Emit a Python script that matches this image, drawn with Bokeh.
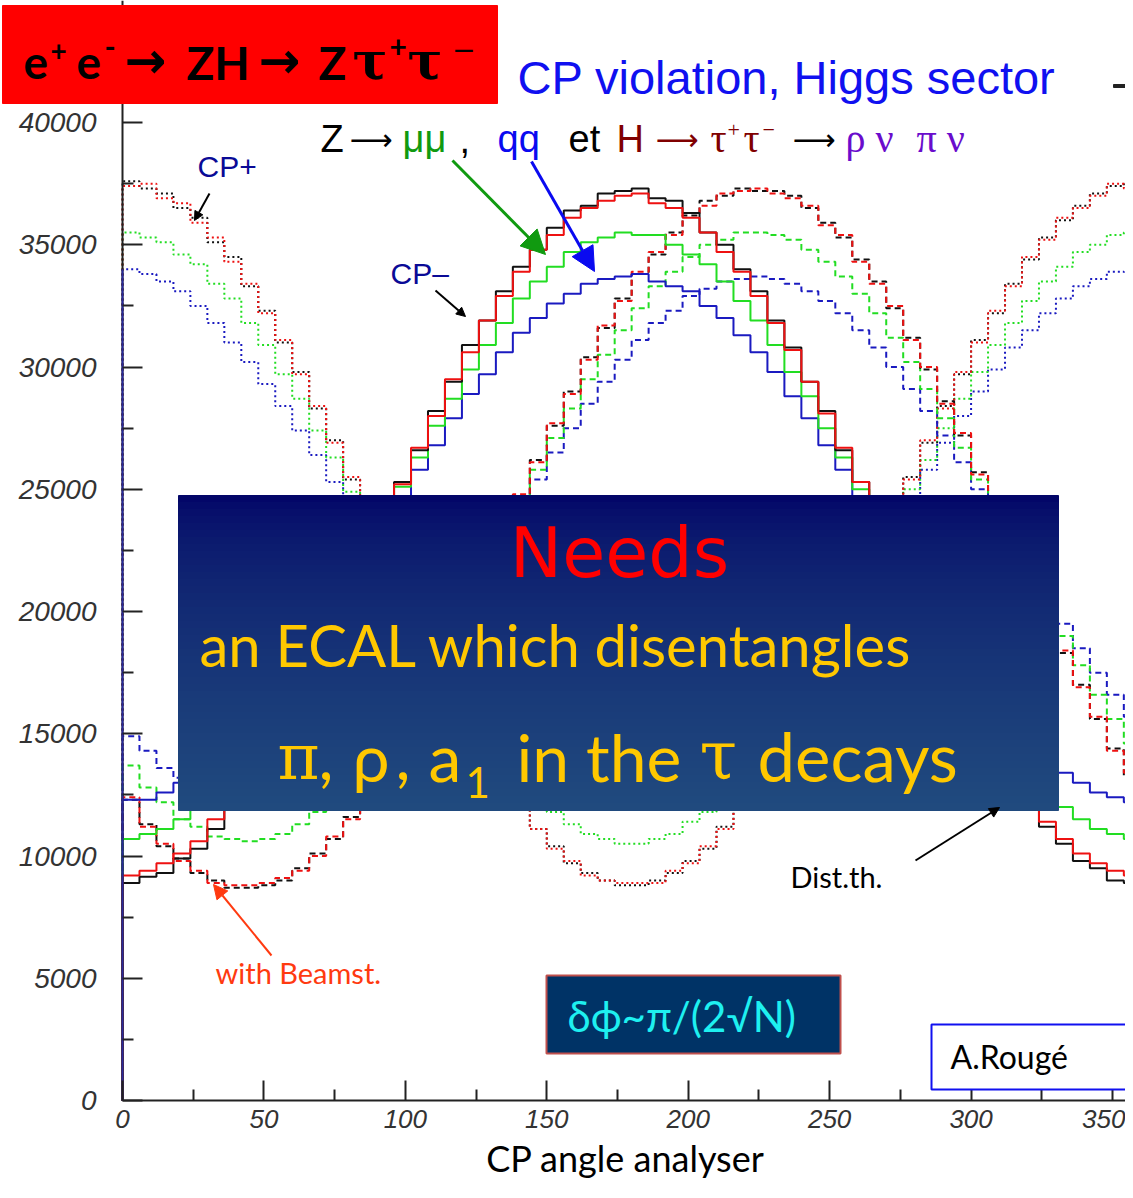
import numpy as np
from bokeh.plotting import figure
from bokeh.models import (Range1d, FixedTicker, BoxAnnotation, Label,
                          Arrow, NormalHead)
from bokeh.embed import file_html
from bokeh.resources import INLINE

# ---------------- data ----------------
angle_edges = list(range(0, 361, 6))   # 60 bins of 6 degrees

# CP- (solid, no beamstrahlung)
cpm_black = [8900, 9150, 9300, 9900, 10300, 11100, 12100, 13100, 14000, 15400,
             16700, 17900, 19500, 20800, 22400, 23700, 25300, 26600, 28200, 29400,
             30900, 31900, 33100, 34100, 34800, 35700, 36400, 36600, 37100, 37200,
             37300, 36900, 36800, 36300, 35500, 35000, 34000, 33100, 31900, 30800,
             29400, 28200, 26600, 25300, 23800, 22200, 20900, 19300, 18000, 16500,
             15400, 14100, 13100, 12000, 11200, 10500, 9800, 9500, 9000, 8900]
cpm_red = [9200, 9400, 9700, 10100, 10600, 11500, 12300, 13200, 14400, 15500,
           16800, 18100, 19400, 21000, 22300, 23900, 25200, 26700, 28000, 29500,
           30600, 31900, 32900, 33900, 34800, 35400, 36100, 36500, 36800, 37000,
           37100, 36700, 36500, 36100, 35500, 34700, 33900, 32900, 31800, 30700,
           29400, 28100, 26700, 25300, 23800, 22400, 20900, 19500, 18100, 16800,
           15500, 14400, 13300, 12300, 11400, 10700, 10100, 9700, 9400, 9200]
cpm_green = [10700, 10900, 11100, 11500, 12100, 12600, 13500, 14300, 15300, 16400,
             17400, 18700, 19900, 21100, 22500, 23700, 25100, 26300, 27600, 28700,
             29900, 30900, 31800, 32800, 33500, 34100, 34700, 35100, 35300, 35500,
             35400, 35400, 35000, 34600, 34200, 33500, 32700, 31900, 30900, 29800,
             28800, 27500, 26300, 25000, 23800, 22400, 21200, 19900, 18600, 17500,
             16300, 15300, 14300, 13500, 12700, 12000, 11500, 11100, 10900, 10700]
cpm_blue = [12300, 12300, 12600, 13000, 13400, 14000, 14600, 15400, 16200, 17200,
            18100, 19100, 20200, 21300, 22400, 23600, 24700, 25800, 26800, 27900,
            28900, 29700, 30600, 31400, 32000, 32600, 33000, 33400, 33600, 33700,
            33800, 33500, 33300, 33100, 32500, 32000, 31300, 30600, 29800, 28800,
            27900, 26800, 25800, 24700, 23500, 22500, 21300, 20200, 19100, 18100,
            17200, 16200, 15400, 14600, 14000, 13400, 13000, 12600, 12400, 12200]

# CP- with beamstrahlung (dashed)
cpm_bs_black = [12300, 11300, 10400, 9900, 9300, 9000, 8700, 8700, 8800, 9000,
                9500, 10100, 10700, 11600, 12500, 13600, 14800, 16100, 17400, 18800,
                20300, 21700, 23300, 24700, 26200, 27600, 29000, 30400, 31600, 32800,
                33800, 34600, 35500, 36200, 36800, 37000, 37300, 37200, 37200, 37000,
                36500, 35900, 35300, 34400, 33500, 32400, 31200, 29900, 28600, 27200,
                25700, 24200, 22800, 21300, 19800, 18300, 17000, 15600, 14400, 13300]
cpm_bs_red = [12400, 11200, 10500, 9800, 9400, 8900, 8800, 8800, 8900, 9100,
              9400, 10000, 10800, 11500, 12600, 13500, 14900, 16000, 17500, 18700,
              20300, 21800, 23200, 24800, 26100, 27700, 28900, 30300, 31700, 32700,
              33900, 34700, 35400, 36300, 36600, 37100, 37200, 37300, 37100, 36900,
              36600, 35800, 35400, 34300, 33400, 32500, 31100, 30000, 28500, 27300,
              25600, 24300, 22700, 21400, 19700, 18400, 16900, 15700, 14300, 13400]
cpm_bs_green = [13700, 12800, 12200, 11500, 11200, 10800, 10700, 10600, 10700, 10900,
                11300, 11800, 12400, 13100, 13900, 14900, 15900, 17000, 18200, 19400,
                20700, 22000, 23300, 24600, 25800, 27100, 28300, 29500, 30500, 31500,
                32400, 33300, 33900, 34500, 35000, 35200, 35500, 35500, 35400, 35200,
                34800, 34300, 33700, 33000, 32200, 31200, 30200, 29100, 27900, 26700,
                25400, 24100, 22800, 21500, 20200, 19000, 17800, 16600, 15600, 14600]
cpm_bs_blue = [14900, 14300, 13600, 13200, 12800, 12500, 12300, 12300, 12400, 12600,
               12900, 13300, 13800, 14500, 15200, 16000, 16900, 17800, 18800, 19900,
               21000, 22100, 23200, 24300, 25400, 26500, 27500, 28500, 29400, 30300,
               31100, 31800, 32300, 32900, 33200, 33500, 33600, 33700, 33600, 33400,
               33100, 32700, 32200, 31500, 30800, 30000, 29100, 28200, 27200, 26100,
               25000, 23900, 22800, 21700, 20600, 19500, 18500, 17500, 16600, 15700]

# CP+ (dotted)
cpp_black = [37600, 37300, 37100, 36500, 36100, 35100, 34500, 33300, 32300, 31000,
             29800, 28300, 27000, 25400, 24000, 22400, 21000, 19400, 18100, 16600,
             15400, 14100, 13100, 12000, 11100, 10400, 9700, 9300, 9000, 8800,
             8800, 9000, 9300, 9800, 10300, 11200, 12000, 13000, 14200, 15300,
             16700, 18000, 19500, 20900, 22500, 23900, 25500, 26900, 28400, 29700,
             31100, 32200, 33400, 34400, 35300, 36000, 36600, 37100, 37400, 37500]
cpp_red = [37400, 37500, 36900, 36700, 35900, 35300, 34300, 33400, 32200, 31100,
           29700, 28400, 26900, 25500, 23900, 22500, 20900, 19500, 18000, 16700,
           15300, 14200, 13000, 12100, 11100, 10300, 9800, 9200, 9000, 8900,
           8900, 8900, 9400, 9700, 10400, 11100, 12100, 12900, 14100, 15400,
           16600, 18100, 19400, 21000, 22400, 24000, 25400, 27000, 28300, 29800,
           31000, 32300, 33300, 34500, 35200, 36100, 36500, 37000, 37500, 37300]
cpp_green = [35500, 35300, 35100, 34600, 34200, 33400, 32800, 31800, 30900, 29700,
             28700, 27400, 26300, 24900, 23700, 22300, 21100, 19700, 18500, 17300,
             16200, 15100, 14200, 13300, 12500, 11800, 11300, 10900, 10700, 10500,
             10500, 10700, 10900, 11400, 11800, 12500, 13300, 14100, 15200, 16100,
             17400, 18500, 19800, 21000, 22400, 23600, 25000, 26200, 27500, 28700,
             29800, 30900, 31800, 32700, 33500, 34100, 34700, 35000, 35400, 35500]
cpp_blue = [34000, 33800, 33500, 33100, 32500, 31800, 31000, 30200, 29300, 28400,
            27400, 26400, 25300, 24300, 23100, 22000, 20900, 19900, 18800, 17800,
            16900, 16000, 15100, 14400, 13700, 13200, 12700, 12400, 12100, 12000,
            12000, 12200, 12400, 12700, 13300, 13800, 14400, 15300, 16100, 17000,
            18000, 19100, 20200, 21300, 22400, 23600, 24700, 25800, 26900, 28000,
            29000, 29900, 30800, 31500, 32200, 32800, 33300, 33600, 33900, 33800]

x_major_ticks = [0, 50, 100, 150, 200, 250, 300, 350]
x_minor_ticks = [25, 75, 125, 175, 225, 275, 325]
y_major_ticks = [0, 5000, 10000, 15000, 20000, 25000, 30000, 35000, 40000]
y_minor_ticks = [2500, 7500, 12500, 17500, 22500, 27500, 32500, 37500]

# ---------------- figure (canvas pixel -> data helpers for annotations) ----------------
PX_PER_X = 2.8286
PX_PER_Y = 0.02445
X0_PIX, Y0_PIX = 122, 1100

def X(px):
    return (px - X0_PIX) / PX_PER_X

def Y(py):
    return (Y0_PIX - py) / PX_PER_Y

W, H = 1125, 1182
p = figure(width=W, height=H, output_backend="svg", toolbar_location=None,
           x_range=Range1d(X(0), X(W)), y_range=Range1d(Y(H), Y(0)),
           min_border_left=0, min_border_right=0, min_border_top=0,
           min_border_bottom=0)
p.outline_line_color = None
p.xgrid.visible = False
p.ygrid.visible = False
p.background_fill_color = "white"
p.border_fill_color = "white"

p.xaxis.fixed_location = 0
p.yaxis.fixed_location = 0
p.xaxis.ticker = FixedTicker(ticks=x_major_ticks, minor_ticks=x_minor_ticks)
p.yaxis.ticker = FixedTicker(ticks=y_major_ticks, minor_ticks=y_minor_ticks)
for ax in (p.xaxis, p.yaxis):
    ax.axis_line_color = None
    ax.major_tick_in = 20
    ax.major_tick_out = 0
    ax.minor_tick_in = 11
    ax.minor_tick_out = 0
    ax.major_tick_line_width = 2
    ax.minor_tick_line_width = 2
    ax.major_tick_line_color = "#222222"
    ax.minor_tick_line_color = "#222222"
    ax.major_label_text_font = "Liberation Sans"
    ax.major_label_text_font_style = "italic"
    ax.major_label_text_color = "#333333"
p.yaxis.major_label_text_font_size = "28px"
p.xaxis.major_label_text_font_size = "26px"
p.yaxis.major_label_standoff = 26
p.xaxis.major_label_standoff = 9

# ---------------- histograms ----------------
def hist(vals, color, dash, width=2):
    xs = [angle_edges[0]] + angle_edges
    ys = [0] + vals + [vals[-1]]
    p.step(xs, ys, mode="after", line_color=color, line_width=width,
           line_dash=dash)

BLACK, RED, GREEN, BLUE = "#111111", "#ee1111", "#22dd22", "#1a1ac0"
for vals, col in ((cpp_blue, BLUE), (cpp_green, GREEN), (cpp_black, BLACK), (cpp_red, RED)):
    hist(vals, col, "2 3", 2)
for vals, col in ((cpm_bs_blue, BLUE), (cpm_bs_green, GREEN), (cpm_bs_black, BLACK), (cpm_bs_red, RED)):
    hist(vals, col, "6 4", 2)
for vals, col in ((cpm_blue, BLUE), (cpm_green, GREEN), (cpm_black, BLACK), (cpm_red, RED)):
    hist(vals, col, "solid", 2)

# axis lines (drawn over the histogram edges)
p.segment(x0=[0], y0=[0], x1=[p.x_range.end], y1=[0], line_color="#222222", line_width=2)
p.segment(x0=[0], y0=[0], x1=[0], y1=[p.y_range.end], line_color="#222222", line_width=2)
p.segment(x0=[0], y0=[0], x1=[0], y1=[cpp_blue[0]], line_color="#2a2a9a", line_width=2)

# ---------------- annotations ----------------
def box(x0, y0, x1, y1, fill, line=None, lw=0):
    p.add_layout(BoxAnnotation(left=X(x0), right=X(x1), top=Y(y0), bottom=Y(y1),
                               fill_color=fill, fill_alpha=1.0,
                               line_color=line if line else fill,
                               line_width=lw if line else 1, line_alpha=1.0))

BASE_SHIFT = 0.37

def lab(text, px, py, size, color, font="Lato", style="normal", align="left"):
    # py = wanted baseline (canvas px)
    p.add_layout(Label(x=X(px), y=Y(py - BASE_SHIFT * size), text=text,
                       text_font=font, text_font_size=f"{size}px",
                       text_color=color, text_font_style=style,
                       text_align=align, text_baseline="alphabetic"))

def arrow(x0, y0, x1, y1, color, lw=2, head=12):
    p.add_layout(Arrow(x_start=X(x0), y_start=Y(y0), x_end=X(x1), y_end=Y(y1),
                       line_color=color, line_width=lw,
                       end=NormalHead(size=head, fill_color=color, line_color=color)))

# red title box
box(2, 5, 497, 103, "#ff0000")
TB = 79
TS = 46
lab("e", 23, TB, TS, "black", style="bold")
lab("+", 50, 60, 28, "black", style="bold")
lab("e", 76, TB, TS, "black", style="bold")
lab("-", 104, 58, 30, "black", style="bold")
lab("\u2192", 124, TB, 50, "black", font="DejaVu Sans", style="bold")
lab("ZH", 186, TB, TS, "black", style="bold")
lab("\u2192", 258, TB, 50, "black", font="DejaVu Sans", style="bold")
lab("Z", 318, TB, TS, "black", style="bold")
lab("\u03c4", 352, TB, 52, "black", font="DejaVu Serif", style="bold")
lab("+", 389, 58, 30, "black", style="bold")
lab("\u03c4", 407, TB, 52, "black", font="DejaVu Serif", style="bold")
lab("\u2014", 453, 58, 26, "black", style="bold")

# top right tiny dash
box(1113, 84, 1133, 87, "#222222")

# heading
lab("CP violation, Higgs sector", 517, 94, 47, "#1010f0", font="Liberation Sans")

# second line
L2 = 153
AS = 30
lab("Z", 320, L2, 38, "black", font="Liberation Sans")
lab("\u27f6", 349, L2 - 3, AS, "black", font="DejaVu Sans")
lab("\u03bc\u03bc", 402, L2, 38, "#109a10", font="Liberation Sans")
lab(",", 459, L2, 38, "black", font="Liberation Sans")
lab("qq", 497, L2, 38, "#0a0af0", font="Liberation Sans")
lab("et", 568, L2, 38, "black", font="Liberation Sans")
lab("H", 616, L2, 38, "#800000", font="Liberation Sans")
lab("\u27f6", 655, L2 - 3, AS, "#800000", font="DejaVu Sans")
lab("\u03c4", 710, L2, 40, "#800000", font="Liberation Serif")
lab("+", 727, 138, 22, "#800000", font="Liberation Serif")
lab("\u03c4", 743, L2, 40, "#800000", font="Liberation Serif")
lab("\u2212", 762, 138, 22, "#800000", font="Liberation Serif")
lab("\u27f6", 792, L2 - 3, AS, "black", font="DejaVu Sans")
lab("\u03c1 \u03bd", 845, L2, 40, "#6a0ccc", font="Liberation Serif")
lab("\u03c0 \u03bd", 916, L2, 40, "#6a0ccc", font="Liberation Serif")

# CP labels and arrows
lab("CP+", 197, 177, 30, "#0a0a96", font="Liberation Sans")
arrow(209, 193, 194, 220, "black", lw=2, head=9)
lab("CP\u2013", 390, 284, 30, "#0a0a96", font="Liberation Sans")
arrow(435, 290, 465, 316, "black", lw=2, head=9)
arrow(452, 160, 545, 254, "#109a10", lw=3, head=24)
arrow(531, 161, 594, 271, "#0a0af0", lw=3, head=24)

# big gradient box
top_c = np.array([0, 0, 102])
bot_c = np.array([32, 74, 126])
nstrip = 45
for i in range(nstrip):
    f = ((i + 0.5) / nstrip) ** 0.55
    c = top_c + (bot_c - top_c) * f
    y0 = 495 + (810 - 495) * i / nstrip
    y1 = 495 + (810 - 495) * (i + 1) / nstrip
    col = "#%02x%02x%02x" % tuple(int(round(v)) for v in c)
    box(178, y0, 1058, min(y1 + 1.0, 810), col)

lab("Needs", 619, 578, 70, "#ff0000", font="DejaVu Sans", align="center")
lab("an ECAL which disentangles", 199, 665, 58, "#ffc800", font="Lato")
GB = 780
lab("\u03c0", 277, GB, 64, "#ffc800", font="DejaVu Serif")
lab(",", 318, GB, 66, "#ffc800", font="Lato")
lab("\u03c1", 352, GB, 66, "#ffc800", font="Lato")
lab(",", 395, GB, 66, "#ffc800", font="Lato")
lab("a", 428, GB, 66, "#ffc800", font="Lato")
lab("1", 465, 798, 42, "#ffc800", font="Lato")
lab("in the", 516, GB, 66, "#ffc800", font="Lato")
lab("\u03c4", 699, GB, 68, "#ffc800", font="DejaVu Serif")
lab("decays", 757, GB, 67, "#ffc800", font="Lato")

# other notes
lab("with Beamst.", 215, 983, 29, "#ff3a10", font="Lato")
arrow(271, 955, 213, 884, "#ff3a10", lw=2, head=14)
lab("Dist.th.", 790, 887, 29, "black", font="Lato")
arrow(915, 860, 999, 807, "black", lw=2, head=10)

box(546, 975, 840, 1053, "#003366", line="#c0504d", lw=2)
lab("\u03b4\u03d5~\u03c0/(2\u221aN)", 567, 1031, 42, "#1ef0f0", font="Lato")

box(931, 1024, 1150, 1089, "white", line="#1010f0", lw=2)
lab("A.Roug\u00e9", 950, 1068, 32, "black", font="Lato")

# x-axis title
lab("CP angle analyser", 625, 1171, 36, "black", font="Lato", align="center")

open("out.html", "w").write(file_html(p, INLINE))
